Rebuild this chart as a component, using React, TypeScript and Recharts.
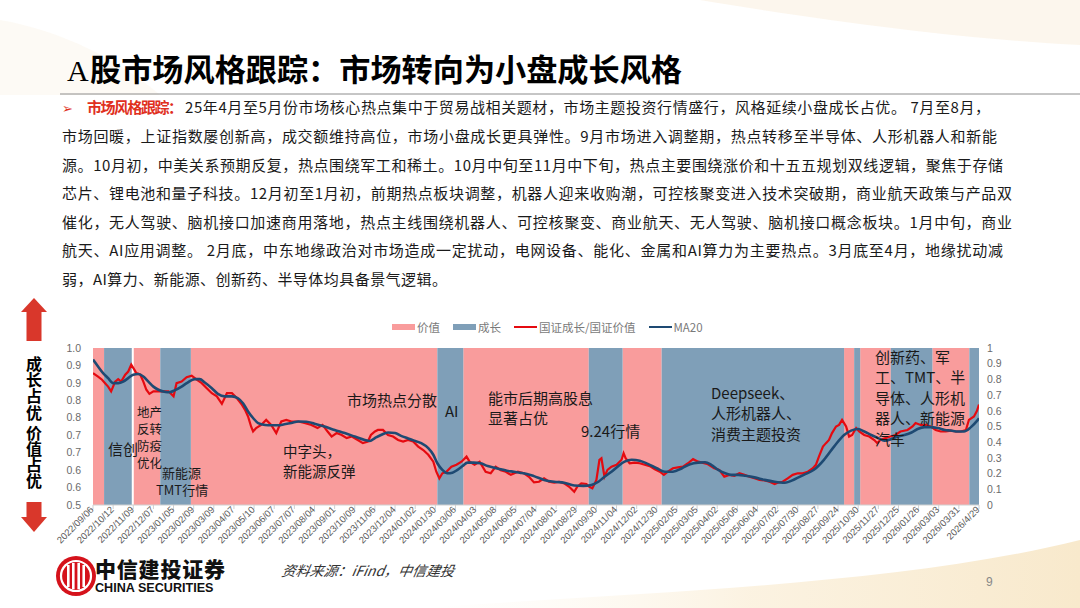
import React from 'react';
import { ComposedChart, Line, Area, XAxis, YAxis } from 'recharts';

// ---------- data ----------
const DATES = [
  '2022/09/06', '2022/10/12', '2022/11/09', '2022/12/07', '2023/01/05', '2023/02/09', '2023/03/09', '2023/04/07',
  '2023/05/10', '2023/06/07', '2023/07/07', '2023/08/04', '2023/09/01', '2023/10/09', '2023/11/06', '2023/12/04',
  '2024/01/02', '2024/01/30', '2024/03/06', '2024/04/03', '2024/05/08', '2024/06/05', '2024/07/04', '2024/08/01',
  '2024/08/29', '2024/09/30', '2024/11/04', '2024/12/02', '2024/12/30', '2025/02/05', '2025/03/05', '2025/04/02',
  '2025/05/06', '2025/06/04', '2025/07/02', '2025/07/30', '2025/08/27', '2025/09/24', '2025/10/30', '2025/11/27',
  '2025/12/25', '2026/01/26', '2026/03/03', '2026/03/31', '2026/4/29',
];
const DAYS_PER_LABEL = 20;

const LEFT_TICKS = [0.5, 0.5556, 0.6111, 0.6667, 0.7222, 0.7778, 0.8333, 0.8889, 0.9444, 1.0];
const RIGHT_TICKS = [0, 0.1, 0.2, 0.3, 0.4, 0.5, 0.6, 0.7, 0.8, 0.9, 1];

// style regimes (trading-day index ranges); '空白' is the thin white separator
const BAND_START = [0, 11, 38.5, 40.5, 66.8, 97.2, 342, 367.8, 492.4, 526, 564.8, 746, 756, 762, 792.4, 833.7, 870.4];
const BAND_END = [11, 38.5, 40.5, 66.8, 97.2, 342, 367.8, 492.4, 526, 564.8, 746, 756, 762, 792.4, 833.7, 870.4, 880];
const BAND_KIND = ['价值', '成长', '空白', '价值', '成长', '价值', '成长', '价值', '成长', '价值', '成长', '价值', '成长', '价值', '成长', '价值', '成长'];

// 国证成长/国证价值 (trading-day index, value)
const RATIO: [number, number][] = [
  [0, 0.920], [5, 0.909], [9, 0.899], [12, 0.888], [15, 0.877], [18, 0.862], [22, 0.893], [25, 0.901], [28, 0.893],
  [32, 0.915], [35, 0.925], [38, 0.947], [41, 0.931], [43, 0.920], [47, 0.915], [50, 0.893], [53, 0.867], [56, 0.854],
  [60, 0.862], [63, 0.862], [68, 0.862], [75, 0.862], [80, 0.846], [83, 0.888], [88, 0.893], [93, 0.907], [98, 0.912],
  [103, 0.899], [108, 0.888], [113, 0.872], [118, 0.856], [123, 0.846], [128, 0.822], [133, 0.856], [138, 0.856],
  [143, 0.840], [148, 0.819], [151, 0.803], [154, 0.782], [157, 0.750], [159, 0.734], [162, 0.745], [167, 0.755],
  [172, 0.771], [177, 0.755], [182, 0.729], [187, 0.766], [192, 0.771], [197, 0.766], [204, 0.766], [210, 0.761],
  [217, 0.755], [223, 0.745], [228, 0.755], [233, 0.734], [237, 0.718], [242, 0.729], [247, 0.723], [252, 0.713],
  [257, 0.718], [263, 0.707], [268, 0.697], [273, 0.702], [276, 0.723], [280, 0.734], [283, 0.739], [288, 0.739],
  [293, 0.723], [298, 0.718], [303, 0.707], [308, 0.702], [313, 0.707], [318, 0.702], [323, 0.686], [328, 0.675],
  [333, 0.660], [338, 0.638], [341, 0.606], [344, 0.585], [347, 0.601], [351, 0.606], [356, 0.622], [361, 0.628],
  [366, 0.638], [371, 0.654], [374, 0.638], [379, 0.628], [384, 0.638], [390, 0.606], [395, 0.601], [400, 0.622],
  [405, 0.611], [410, 0.606], [415, 0.596], [422, 0.606], [428, 0.601], [433, 0.590], [438, 0.572], [443, 0.574],
  [448, 0.585], [453, 0.574], [458, 0.571], [463, 0.574], [468, 0.569], [473, 0.558], [478, 0.542], [481, 0.558],
  [485, 0.569], [490, 0.567], [493, 0.558], [496, 0.553], [500, 0.580], [503, 0.644], [505, 0.649], [508, 0.590],
  [511, 0.612], [515, 0.622], [520, 0.628], [525, 0.644], [527, 0.665], [529, 0.649], [533, 0.633], [538, 0.635],
  [543, 0.633], [548, 0.628], [553, 0.624], [558, 0.614], [563, 0.606], [567, 0.596], [571, 0.606], [576, 0.617],
  [581, 0.620], [586, 0.622], [591, 0.633], [596, 0.646], [601, 0.638], [605, 0.635], [610, 0.631], [617, 0.617],
  [622, 0.612], [627, 0.590], [632, 0.596], [637, 0.593], [642, 0.601], [647, 0.596], [652, 0.590], [657, 0.585],
  [662, 0.580], [667, 0.578], [672, 0.574], [677, 0.567], [680, 0.571], [685, 0.574], [690, 0.585], [695, 0.596],
  [700, 0.601], [705, 0.601], [710, 0.606], [715, 0.617], [718, 0.628], [721, 0.654], [725, 0.686], [728, 0.697],
  [731, 0.707], [734, 0.729], [738, 0.750], [741, 0.755], [744, 0.771], [748, 0.750], [751, 0.718], [754, 0.723],
  [758, 0.745], [761, 0.734], [766, 0.723], [771, 0.718], [776, 0.707], [779, 0.697], [782, 0.707], [787, 0.713],
  [792, 0.718], [797, 0.723], [802, 0.734], [809, 0.739], [814, 0.750], [817, 0.761], [822, 0.755], [827, 0.755],
  [832, 0.750], [837, 0.739], [842, 0.734], [847, 0.734], [852, 0.737], [857, 0.734], [862, 0.734], [867, 0.739],
  [870, 0.771], [875, 0.782], [878, 0.800], [880, 0.820],
];

// MA20 (trading-day index, value)
const MA20: [number, number][] = [
  [0, 0.963], [5, 0.941], [10, 0.920], [15, 0.904], [20, 0.888], [25, 0.888], [30, 0.893], [35, 0.904], [40, 0.915],
  [45, 0.917], [50, 0.909], [55, 0.893], [60, 0.877], [65, 0.867], [72, 0.860], [76, 0.859], [81, 0.865], [88, 0.877],
  [94, 0.890], [101, 0.901], [106, 0.901], [111, 0.890], [118, 0.872], [124, 0.854], [131, 0.846], [138, 0.846],
  [144, 0.840], [149, 0.824], [154, 0.798], [159, 0.777], [164, 0.761], [171, 0.755], [177, 0.754], [184, 0.754],
  [190, 0.757], [197, 0.761], [204, 0.766], [212, 0.765], [220, 0.759], [230, 0.750], [240, 0.739], [250, 0.729],
  [260, 0.718], [270, 0.707], [275, 0.704], [280, 0.713], [286, 0.723], [293, 0.731], [300, 0.729], [306, 0.720],
  [313, 0.712], [319, 0.705], [326, 0.697], [333, 0.681], [338, 0.660], [342, 0.633], [347, 0.612], [352, 0.601],
  [357, 0.603], [362, 0.612], [367, 0.624], [372, 0.635], [378, 0.635], [385, 0.633], [392, 0.624], [398, 0.619],
  [405, 0.614], [411, 0.609], [418, 0.606], [424, 0.603], [431, 0.599], [438, 0.592], [448, 0.580], [458, 0.574],
  [468, 0.571], [478, 0.562], [487, 0.561], [495, 0.564], [502, 0.574], [508, 0.590], [515, 0.606], [521, 0.622],
  [528, 0.638], [535, 0.644], [543, 0.641], [551, 0.631], [560, 0.617], [568, 0.606], [576, 0.606], [585, 0.617],
  [593, 0.630], [601, 0.635], [608, 0.636], [614, 0.628], [621, 0.612], [628, 0.601], [634, 0.596], [641, 0.596],
  [648, 0.593], [657, 0.588], [667, 0.580], [677, 0.574], [687, 0.571], [697, 0.582], [706, 0.596], [716, 0.612],
  [726, 0.644], [736, 0.686], [746, 0.723], [753, 0.737], [760, 0.742], [766, 0.734], [773, 0.723], [780, 0.713],
  [786, 0.705], [793, 0.710], [799, 0.718], [806, 0.723], [813, 0.731], [819, 0.742], [826, 0.748], [832, 0.748],
  [839, 0.745], [846, 0.739], [852, 0.737], [859, 0.734], [865, 0.734], [872, 0.748], [878, 0.768], [880, 0.776],
];

const LEGEND = [
  { name: '价值', kind: 'rect', key: 'value' },
  { name: '成长', kind: 'rect', key: 'growth' },
  { name: '国证成长/国证价值', kind: 'line', key: 'ratio' },
  { name: 'MA20', kind: 'line', key: 'ma' },
];

const TITLE_A = 'A';
const TITLE_REST = '股市场风格跟踪：市场转向为小盘成长风格';
const PARA_HEAD = '市场风格跟踪：';
const PARA_LINES = [
  '25年4月至5月份市场核心热点集中于贸易战相关题材，市场主题投资行情盛行，风格延续小盘成长占优。 7月至8月，',
  '市场回暖，上证指数屡创新高，成交额维持高位，市场小盘成长更具弹性。9月市场进入调整期，热点转移至半导体、人形机器人和新能',
  '源。10月初，中美关系预期反复，热点围绕军工和稀土。10月中旬至11月中下旬，热点主要围绕涨价和十五五规划双线逻辑，聚焦于存储',
  '芯片、锂电池和量子科技。12月初至1月初，前期热点板块调整，机器人迎来收购潮，可控核聚变进入技术突破期，商业航天政策与产品双',
  '催化，无人驾驶、脑机接口加速商用落地，热点主线围绕机器人、可控核聚变、商业航天、无人驾驶、脑机接口概念板块。1月中旬，商业',
  '航天、AI应用调整。 2月底，中东地缘政治对市场造成一定扰动，电网设备、能化、金属和AI算力为主要热点。3月底至4月，地缘扰动减',
  '弱，AI算力、新能源、创新药、半导体均具备景气逻辑。',
];

// ---------- style ----------
const PINK = '#F99C9C';
const BLUE = '#7F9FB8';
const RED = '#E50A10';
const NAVY = '#1E4A73';
const CJK = '"Noto Sans CJK SC", "Noto Sans", sans-serif';
const LAT = '"Liberation Sans", Arial, sans-serif';

const colorOf: Record<string, string> = { value: PINK, growth: BLUE, ratio: RED, ma: NAVY };

const ratioData = RATIO.map(([i, v]) => ({ i, v }));
const maData = MA20.map(([i, v]) => ({ i, v }));
const xTicks = DATES.map((_, k) => k * DAYS_PER_LABEL);

// step series for the regime background: 1 while the regime holds, 0 otherwise
const regimeSteps = (kind: string) => {
  const pts = BAND_START.map((s, k) => ({ i: s, v: BAND_KIND[k] === kind ? 1 : 0 }));
  const last = BAND_KIND.length - 1;
  pts.push({ i: BAND_END[last], v: BAND_KIND[last] === kind ? 1 : 0 });
  return pts;
};
const valueSteps = regimeSteps('价值');
const growthSteps = regimeSteps('成长');

const DateTick = (props: any) => {
  const { x, y, payload } = props;
  const label = DATES[Math.round(payload.value / DAYS_PER_LABEL)] ?? '';
  return (
    <g transform={`translate(${x - 1},${y - 3})`}>
      <text transform="rotate(-45)" textAnchor="end" dy="0.35em" fontSize={9.5} fill="#595959" fontFamily={LAT}>
        {label}
      </text>
    </g>
  );
};

const Note = ({ x, y, size = 15, lines }: { x: number; y: number; size?: number; lines: string[] }) => (
  <div
    style={{
      position: 'absolute', left: x, top: y, fontFamily: CJK, fontSize: size, lineHeight: `${size * 1.36}px`,
      color: '#1a1a1a', whiteSpace: 'nowrap', pointerEvents: 'none',
    }}
  >
    {lines.map((l, k) => (<div key={k}>{l}</div>))}
  </div>
);

const PARA_Y = [108, 136.6, 165.2, 193.8, 222.4, 251, 279.6];
const PARA_X0 = [185, 62, 62, 62, 62, 62, 62];
const PARA_X1 = [990, 997, 1003, 1012, 1012, 1003, 447];

export default function App() {
  return (
    <div style={{ position: 'absolute', left: 0, top: 0, width: 1080, height: 608, background: '#fff', overflow: 'hidden' }}>
      {/* decorative background */}
      <svg width={1080} height={608} style={{ position: 'absolute', left: 0, top: 0 }}>
        <defs>
          <linearGradient id="cream" x1="0" y1="0" x2="1" y2="0">
            <stop offset="0" stopColor="#fdf8ef" stopOpacity="0" />
            <stop offset="0.5" stopColor="#fbf1de" stopOpacity="0.9" />
            <stop offset="1" stopColor="#f8e9cc" stopOpacity="1" />
          </linearGradient>
        </defs>
        <path d="M 420 608 C 650 592, 900 585, 1080 540 L 1080 608 Z" fill="url(#cream)" />
        <path d="M 700 0 C 850 25, 980 40, 1080 45 L 1080 0 Z" fill="#fbf4e8" opacity="0.8" />
        <path d="M 0 20 C 60 30, 120 60, 160 95 L 0 95 Z" fill="#fbf6ee" opacity="0.6" />
        <line x1={60} y1={94} x2={1080} y2={94} stroke="#8c8c8c" strokeWidth={1} />
      </svg>

      {/* title & paragraph */}
      <svg width={1080} height={300} style={{ position: 'absolute', left: 0, top: 0 }}>
        <text x={67} y={81} fontSize={30} fontFamily={'"Liberation Serif", serif'} fill="#000">{TITLE_A}</text>
        <text x={90} y={81} fontSize={31} fontWeight={700} fontFamily={CJK} fill="#000" textLength={592} lengthAdjust="spacingAndGlyphs">
          {TITLE_REST}
        </text>
        <text x={62} y={PARA_Y[0]} dy="0.36em" fontSize={13} fill="#E0301E" fontFamily={'"DejaVu Sans", sans-serif'}>➢</text>
        <text x={87} y={PARA_Y[0]} dy="0.36em" fontSize={15} fontWeight={700} fill="#E0301E" fontFamily={CJK} textLength={96} lengthAdjust="spacing">
          {PARA_HEAD}
        </text>
        {PARA_LINES.map((l, k) => (
          <text key={k} x={PARA_X0[k]} y={PARA_Y[k]} dy="0.36em" fontSize={15} fill="#1a1a1a" fontFamily={CJK}
            textLength={PARA_X1[k] - PARA_X0[k]} lengthAdjust="spacing">
            {l}
          </text>
        ))}
      </svg>

      {/* side arrows and vertical caption */}
      <svg width={70} height={260} style={{ position: 'absolute', left: 0, top: 290 }}>
        <polygon points="34,8 21,22 47,22" fill="#D9372B" />
        <rect x={26.5} y={22} width={15} height={29} fill="#D9372B" />
        <rect x={26.5} y={212} width={15} height={15} fill="#D9372B" />
        <polygon points="21,227 47,227 34,242" fill="#D9372B" />
      </svg>
      <div style={{ position: 'absolute', left: 25, top: 356, fontFamily: CJK, fontWeight: 700, fontSize: 16, lineHeight: '18px', color: '#000', writingMode: 'vertical-rl', letterSpacing: 0.2, whiteSpace: 'nowrap' }}>
        成长占优 价值占优
      </div>

      {/* legend */}
      <div style={{ position: 'absolute', left: 392, top: 319, display: 'flex', alignItems: 'center', fontFamily: CJK, fontSize: 11.5, color: '#7a7a7a', height: 16 }}>
        {LEGEND.map((it) => (
          <div key={it.key} style={{ display: 'flex', alignItems: 'center', marginRight: 13 }}>
            {it.kind === 'rect' ? (
              <div style={{ width: 23, height: 6, background: colorOf[it.key], marginRight: 2 }} />
            ) : (
              <div style={{ width: 23, height: 2.5, background: colorOf[it.key], marginRight: 2 }} />
            )}
            <span>{it.name}</span>
          </div>
        ))}
      </div>

      {/* chart */}
      <div style={{ position: 'absolute', left: 0, top: 0 }}>
        <ComposedChart width={1080} height={608} margin={{ top: 348, right: 61, bottom: 33, left: 0 }}>
          <XAxis type="number" dataKey="i" domain={[0, 880]} ticks={xTicks} interval={0} height={70}
            tick={<DateTick />} tickLine={{ stroke: '#d0d0d0' }} tickSize={4} axisLine={{ stroke: '#d0d0d0' }} allowDataOverflow />
          <YAxis yAxisId="left" domain={[0.5, 1]} ticks={LEFT_TICKS} width={93} axisLine={false} tickLine={false}
            tickMargin={6} tickFormatter={(v: number) => v.toFixed(1)} interval={0}
            tick={{ fontSize: 10.5, fill: '#6b6b6b', fontFamily: LAT }} allowDataOverflow />
          <YAxis yAxisId="right" orientation="right" domain={[0, 1]} ticks={RIGHT_TICKS} width={40} axisLine={false}
            tickLine={false} interval={0} tickFormatter={(v: number) => String(v)}
            tick={{ fontSize: 10.5, fill: '#6b6b6b', fontFamily: LAT }} allowDataOverflow />
          <Area yAxisId="right" data={valueSteps} dataKey="v" type="stepAfter" fill={PINK} fillOpacity={1}
            stroke="none" dot={false} activeDot={false} isAnimationActive={false} />
          <Area yAxisId="right" data={growthSteps} dataKey="v" type="stepAfter" fill={BLUE} fillOpacity={1}
            stroke="none" dot={false} activeDot={false} isAnimationActive={false} />
          <Line yAxisId="left" data={ratioData} dataKey="v" type="linear" stroke={RED} strokeWidth={2.2} dot={false}
            activeDot={false} isAnimationActive={false} />
          <Line yAxisId="left" data={maData} dataKey="v" type="monotone" stroke={NAVY} strokeWidth={2.6} dot={false}
            activeDot={false} isAnimationActive={false} />
        </ComposedChart>
      </div>

      {/* annotations */}
      <Note x={108} y={439} lines={['信创']} />
      <Note x={137} y={403} size={12.5} lines={['地产', '反转', '防疫', '优化']} />
      <Note x={162} y={464} size={13} lines={['新能源']} />
      <Note x={156} y={481} size={13} lines={['TMT行情']} />
      <Note x={283} y={441} size={14.5} lines={['中字头，', '新能源反弹']} />
      <Note x={347} y={390} lines={['市场热点分散']} />
      <Note x={445} y={401} lines={['AI']} />
      <Note x={488} y={388} lines={['能市后期高股息', '显著占优']} />
      <Note x={581} y={421} lines={['9.24行情']} />
      <Note x={711} y={383} size={15} lines={['Deepseek、', '人形机器人、', '消费主题投资']} />
      <Note x={875} y={347} size={15} lines={['创新药、军', '工、TMT、半', '导体、人形机', '器人、新能源', '汽车']} />

      {/* footer */}
      <svg width={50} height={50} style={{ position: 'absolute', left: 54, top: 551 }}>
        <circle cx={22} cy={25} r={20} fill="#D5121B" />
        <circle cx={22} cy={25} r={15} fill="none" stroke="#fff" strokeWidth={2.2} />
        <rect x={13} y={14} width={2.6} height={22} fill="#fff" />
        <rect x={18} y={12} width={2.6} height={26} fill="#fff" />
        <rect x={23.4} y={12} width={2.6} height={26} fill="#fff" />
        <rect x={28.4} y={14} width={2.6} height={22} fill="#fff" />
      </svg>
      <div style={{ position: 'absolute', left: 95, top: 557, fontFamily: CJK, fontWeight: 900, fontSize: 21, lineHeight: '22px', color: '#111', letterSpacing: 0.8 }}>
        中信建投证券
      </div>
      <div style={{ position: 'absolute', left: 95, top: 581, fontFamily: LAT, fontWeight: 700, fontSize: 12.6, lineHeight: '14px', color: '#111' }}>
        CHINA SECURITIES
      </div>
      <div style={{ position: 'absolute', left: 282, top: 560, fontFamily: CJK, fontStyle: 'italic', fontSize: 14, color: '#333', transform: 'skewX(-10deg)' }}>
        资料来源：iFind，中信建投
      </div>
      <div style={{ position: 'absolute', left: 986, top: 575, fontFamily: LAT, fontSize: 12, color: '#888' }}>9</div>
    </div>
  );
}
